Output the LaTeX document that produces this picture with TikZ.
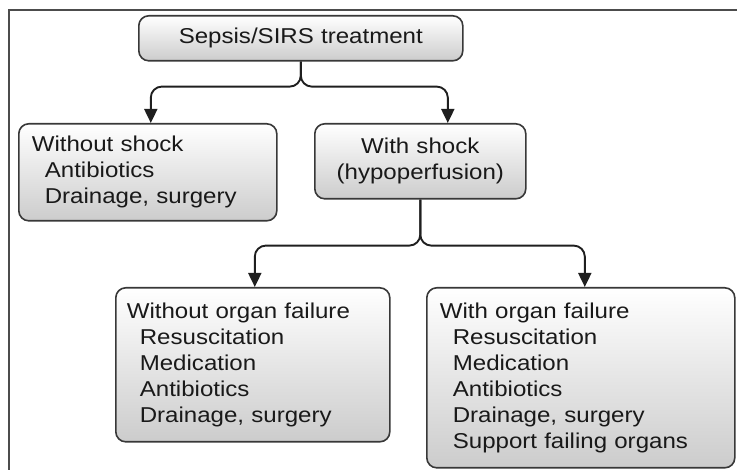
\documentclass[tikz,border=0pt]{standalone}
\usepackage{fontspec}
\setmainfont{Liberation Sans}[FakeStretch=1.12]
\usetikzlibrary{arrows.meta}
\begin{document}
\begin{tikzpicture}[x=1pt,y=-1pt,
  box/.style={draw=black!78, line width=1.6pt, rounded corners=10pt,
    top color=white, bottom color=black!20, text=black!90,
    font=\fontsize{21.5}{26}\selectfont, inner ysep=0pt, anchor=north west},
  conn/.style={draw=black!88, line width=1.9pt, rounded corners=11pt},
  arr/.style={conn, -{Triangle[length=14pt,width=13pt]}}]
\useasboundingbox (0,0) rectangle (737,470);
\draw[line width=1.5pt, black!70] (9,470) -- (9,10) -- (737,10);

\node[box, inner xsep=0pt, text width=324pt, minimum height=45pt, align=center]
  (top) at (138,15) {Sepsis/SIRS treatment};
\node[box, inner xsep=13pt, text width=232pt, minimum height=97pt, align=left]
  (wos) at (18,123) {Without shock\\\hspace*{13pt}Antibiotics\\\hspace*{13pt}Drainage, surgery};
\node[box, inner xsep=0pt, text width=211pt, minimum height=75pt, align=center]
  (ws) at (314,123) {With shock\\(hypoperfusion)};
\node[box, inner xsep=11pt, text width=252pt, minimum height=154pt, align=left]
  (ll) at (115,287) {Without organ failure\\\hspace*{13pt}Resuscitation\\\hspace*{13pt}Medication\\\hspace*{13pt}Antibiotics\\\hspace*{13pt}Drainage, surgery};
\node[box, inner xsep=13pt, text width=282pt, minimum height=180pt, align=left]
  (lr) at (426,287) {With organ failure\\\hspace*{13pt}Resuscitation\\\hspace*{13pt}Medication\\\hspace*{13pt}Antibiotics\\\hspace*{13pt}Drainage, surgery\\\hspace*{13pt}Support failing organs};

\draw[arr] (top.south) -- ++(0,25) -| ([xshift=3pt]wos.north);
\draw[arr] (top.south) -- ++(0,25) -| ([xshift=27.5pt]ws.north);
\draw[arr] (ws.south) -- ++(0,46) -| ([xshift=2pt]ll.north);
\draw[arr] (ws.south) -- ++(0,46) -| ([xshift=4pt]lr.north);
\end{tikzpicture}
\end{document}
